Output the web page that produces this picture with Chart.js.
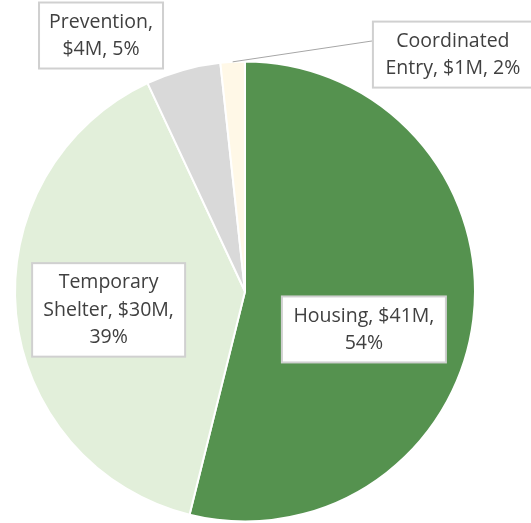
<!DOCTYPE html>
<html>
<head>
<meta charset="utf-8">
<script src="https://cdn.jsdelivr.net/npm/chart.js@4/dist/chart.umd.min.js"></script>
<style>
  html, body { margin: 0; padding: 0; background: #fff; }
  #wrap { width: 531px; height: 523px; overflow: hidden; }
</style>
</head>
<body>
<div id="wrap"><canvas id="pieChart" width="531" height="523"></canvas></div>
<script>
// Funding by category, in $M
const categories = ['Housing', 'Temporary Shelter', 'Prevention', 'Coordinated Entry'];
const amounts = [41, 29.8, 4, 1.3];
const colors = ['#55924f', '#e2efda', '#d9d9d9', '#fff8e7'];

// label text split into lines, as in the original boxes
const labelLines = [
    ['Housing, $41M,', '54%'],
    ['Temporary', 'Shelter, $30M,', '39%'],
    ['Prevention,', '$4M, 5%'],
    ['Coordinated', 'Entry, $1M, 2%']
];

// where each label box sits, relative to pie centre in radius units
const labelPlace = [
    { ox: 0.517, oy: 0.165, w: 164 },
    { ox: -0.593, oy: 0.080, w: 153 },
    { ox: -0.626, oy: -1.113, w: 124 },
    { ox: 0.904, oy: -1.030, w: 160, leader: true }
];

const total = amounts.reduce((a, b) => a + b, 0);

const boxLabels = {
    id: 'boxLabels',
    afterDatasetsDraw(chart) {
        const ctx = chart.ctx;
        const arcs = chart.getDatasetMeta(0).data;
        const lineH = 27.5;
        ctx.save();
        ctx.font = '19.5px "Open Sans", sans-serif';
        arcs.forEach((arc, i) => {
            const p = labelPlace[i];
            const R = arc.outerRadius;
            const cx = arc.x + p.ox * R;
            const cy = arc.y + p.oy * R;
            const lines = labelLines[i];
            const h = lines.length * lineH + 11;
            const left = cx - p.w / 2, top = cy - h / 2;

            if (p.leader) {
                const mid = (arc.startAngle + arc.endAngle) / 2;
                ctx.strokeStyle = '#a6a6a6';
                ctx.lineWidth = 1;
                ctx.beginPath();
                ctx.moveTo(arc.x + Math.cos(mid) * R, arc.y + Math.sin(mid) * R);
                ctx.lineTo(left, top + 5.5 + lineH / 2);
                ctx.stroke();
            }

            ctx.fillStyle = '#ffffff';
            ctx.fillRect(left, top, p.w, h);
            ctx.strokeStyle = '#d0d0d0';
            ctx.lineWidth = 2;
            ctx.strokeRect(left, top, p.w, h);

            ctx.fillStyle = '#404040';
            ctx.textAlign = 'center';
            ctx.textBaseline = 'middle';
            lines.forEach((t, k) => {
                ctx.fillText(t, cx, top + 6 + lineH * (k + 0.5));
            });
        });
        ctx.restore();
    }
};

new Chart(document.getElementById('pieChart'), {
    type: 'pie',
    data: {
        labels: categories,
        datasets: [{
            data: amounts,
            backgroundColor: colors,
            borderColor: '#ffffff',
            borderWidth: 2,
            hoverOffset: 0
        }]
    },
    options: {
        responsive: false,
        animation: false,
        layout: { padding: { left: 14, right: 55, top: 60, bottom: 0 } },
        plugins: {
            legend: { display: false },
            tooltip: { enabled: false }
        }
    },
    plugins: [boxLabels]
});
</script>
</body>
</html>
